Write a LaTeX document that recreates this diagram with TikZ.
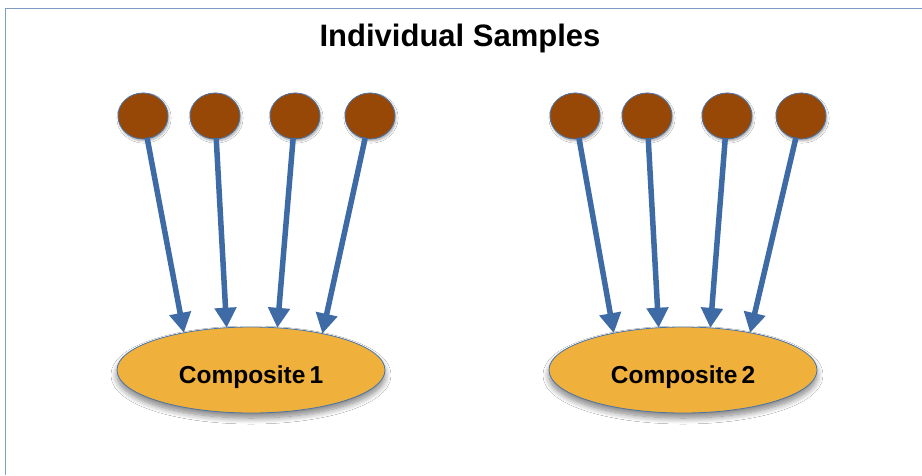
\documentclass[tikz,border=0pt]{standalone}
\usepackage{fontspec}
\setmainfont{Liberation Sans}
\usetikzlibrary{arrows.meta,shadows.blur,shapes.geometric}

\definecolor{framecol}{HTML}{7F9CC4}
\definecolor{samplefill}{HTML}{974807}
\definecolor{sampleedge}{HTML}{4A74A8}
\definecolor{arrowcol}{HTML}{3E6BA5}
\definecolor{compfill}{HTML}{F0B03C}
\definecolor{compedge}{HTML}{4A74A8}

\tikzset{
  sample/.style={ellipse, draw=sampleedge, line width=0.8pt, fill=samplefill,
    minimum width=50pt, minimum height=46pt, inner sep=0pt, outer sep=0pt,
    blur shadow={shadow xshift=1pt, shadow yshift=-2pt, shadow blur steps=6, shadow opacity=35}},
  composite/.style={ellipse, draw=compedge, line width=0.8pt, fill=compfill,
    minimum width=268pt, minimum height=86pt, inner sep=0pt, outer sep=0pt,
    font=\fontsize{24.5}{28}\selectfont\bfseries,
    blur shadow={shadow xshift=0pt, shadow yshift=-5pt, shadow blur steps=10, shadow blur radius=6pt, shadow opacity=50}},
  feed/.style={draw=arrowcol, line width=5.5pt,
    -{Triangle[length=20pt,width=21pt]}, shorten <=-1pt},
}
% label lowered a little inside its ellipse, keeping the box size
\newcommand{\lowlabel}[1]{\raisebox{-7pt}[\height][\depth]{#1}}

\begin{document}
\begin{tikzpicture}[x=1pt,y=-1pt]
  \useasboundingbox (0,0) rectangle (922,475);
  \fill[white] (0,0) rectangle (922,475);

  % frame edges
  \draw[framecol, line width=1pt] (5,475) -- (5,8) -- (922,8);

  % title
  \node (title) at (460,38) {\fontsize{31}{34}\selectfont\bfseries Individual Samples};

  % composites
  \node[composite] (c1) at (251,370) {\lowlabel{Composite\,1}};
  \node[composite] (c2) at (683,370) {\lowlabel{Composite\,2}};

  % arrow tips on the composite outlines
  \coordinate (t11) at (c1.151.9);
  \coordinate (t12) at (c1.120.6);
  \coordinate (t13) at (c1.58.4);
  \coordinate (t14) at (c1.27.2);
  \coordinate (t21) at (c2.152.3);
  \coordinate (t22) at (c2.120.6);
  \coordinate (t23) at (c2.57.3);
  \coordinate (t24) at (c2.29.0);

  % individual samples
  \node[sample] (s11) at (143,116) {};
  \node[sample] (s12) at (215,116) {};
  \node[sample] (s13) at (295,116) {};
  \node[sample] (s14) at (370,116) {};
  \node[sample] (s21) at (575,116) {};
  \node[sample] (s22) at (647,116) {};
  \node[sample] (s23) at (727,116) {};
  \node[sample] (s24) at (801,116) {};

  % connectors
  \foreach \g in {1,2}{
    \foreach \k in {1,2,3,4}{
      \draw[feed] (s\g\k) -- (t\g\k);
    }
  }
\end{tikzpicture}
\end{document}
